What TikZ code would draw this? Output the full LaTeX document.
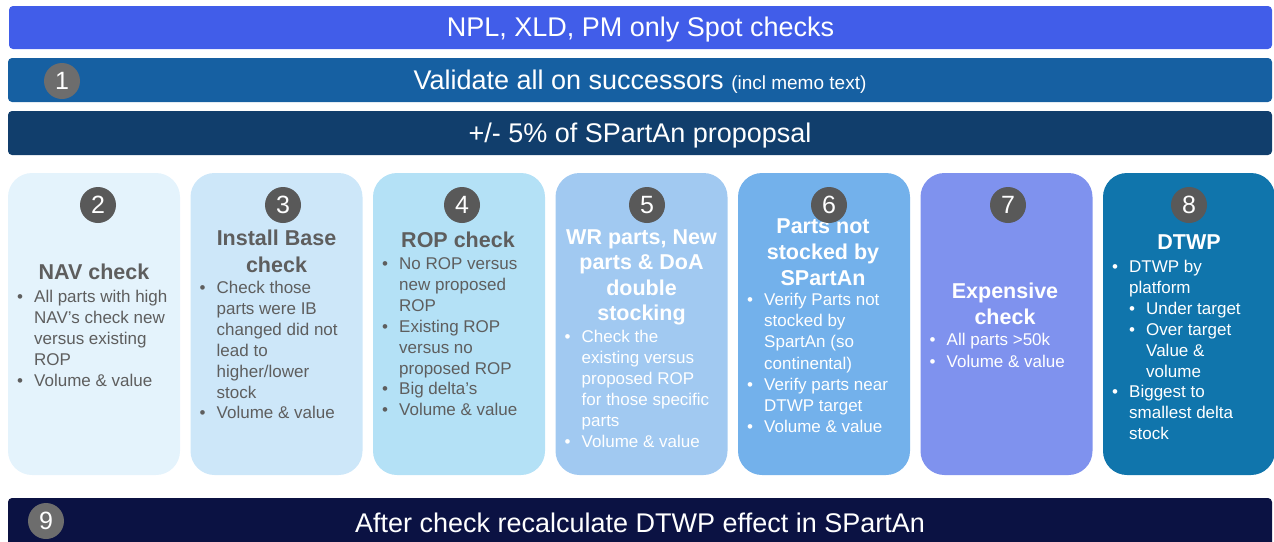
\documentclass[tikz,border=0pt]{standalone}
\usepackage{fontspec}
\setmainfont{Liberation Sans}

\definecolor{barA}{HTML}{415DE9}
\definecolor{barB}{HTML}{1660A2}
\definecolor{barC}{HTML}{113E6C}
\definecolor{barD}{HTML}{0B1243}
\definecolor{cardA}{HTML}{E4F3FC}
\definecolor{cardB}{HTML}{CDE7F9}
\definecolor{cardC}{HTML}{B4E1F6}
\definecolor{cardD}{HTML}{A1C9F1}
\definecolor{cardE}{HTML}{73B1EB}
\definecolor{cardF}{HTML}{7F92EE}
\definecolor{cardG}{HTML}{1075AC}
\definecolor{dotdark}{HTML}{595959}
\definecolor{dotlight}{HTML}{6D6D6D}
\definecolor{ink}{HTML}{5E5E5E}

% bullet and continuation indent for the card lists
\newcommand{\pbul}{\makebox[17pt][l]{\textbullet}}
\newcommand{\pind}{\hspace*{17pt}}

\tikzset{
  band/.style={fill=#1, rounded corners=4pt, inner sep=0pt, text=white,
    font=\fontsize{27}{31}\selectfont, text height=18.5pt, text depth=0pt},
  card/.style={fill=#1, rounded corners=24pt, inner sep=0pt,
    minimum width=172pt, minimum height=302pt},
  numdot/.style={circle, fill=#1, minimum size=36pt, inner sep=0pt, text=white,
    font=\fontsize{25}{25}\selectfont},
  cardtitle/.style={font=\bfseries\fontsize{21.5}{#1}\selectfont, inner sep=0pt, anchor=base},
  cardtitle/.default=26,
  cardbody/.style={font=\fontsize{17}{#1}\selectfont, inner sep=0pt, anchor=base west},
  cardbody/.default=20.9,
}

\begin{document}
\begin{tikzpicture}[x=1pt,y=-1pt]
\useasboundingbox (0,0) rectangle (1274,541);

% header bands
\node[band=barA, minimum width=1263pt, minimum height=43pt] (hdrA) at (640.5,27.5)
  {NPL, XLD, PM only Spot checks};
\node[band=barB, minimum width=1264pt, minimum height=44pt] (hdrB) at (640,80)
  {Validate all on successors {\fontsize{19}{21}\selectfont (incl memo text)}};
\node[band=barC, minimum width=1264pt, minimum height=44pt] (hdrC) at (640,133)
  {+/- 5\% of SPartAn propopsal};
\node[numdot=dotlight] (n1) at (62,81) {1};

% footer band
\node[band=barD, minimum width=1264pt, minimum height=50pt] (ftr) at (640,523)
  {After check recalculate DTWP effect in SPartAn};
\node[numdot=dotlight] (n9) at (46,521) {9};

% check cards
\node[card=cardA] (c2) at (94,324) {};
\node[card=cardB] (c3) at (276.5,324) {};
\node[card=cardC] (c4) at (459,324) {};
\node[card=cardD] (c5) at (641.5,324) {};
\node[card=cardE] (c6) at (824,324) {};
\node[card=cardF] (c7) at (1006.5,324) {};
\node[card=cardG] (c8) at (1189,324) {};

% card 2
\node[cardtitle, text=ink] (t2) at (94,279) {NAV check};
\node[cardbody, text=ink] (b2) at (17,302.5) {\begin{tabular}[t]{@{}l@{}}
\pbul All parts with high\\
\pind NAV's check new\\
\pind versus existing\\
\pind ROP\\
\pbul Volume \& value\end{tabular}};

% card 3
\node[cardtitle=27, text=ink] (t3) at (276.5,245) {\begin{tabular}[t]{@{}c@{}}Install Base\\check\end{tabular}};
\node[cardbody, text=ink] (b3) at (199.5,293.5) {\begin{tabular}[t]{@{}l@{}}
\pbul Check those\\
\pind parts were IB\\
\pind changed did not\\
\pind lead to\\
\pind higher/lower\\
\pind stock\\
\pbul Volume \& value\end{tabular}};

% card 4
\node[cardtitle, text=ink] (t4) at (458,247) {ROP check};
\node[cardbody, text=ink] (b4) at (382,269.5) {\begin{tabular}[t]{@{}l@{}}
\pbul No ROP versus\\
\pind new proposed\\
\pind ROP\\
\pbul Existing ROP\\
\pind versus no\\
\pind proposed ROP\\
\pbul Big delta's\\
\pbul Volume \& value\end{tabular}};

% card 5
\node[cardtitle=25.5, text=white] (t5) at (641.5,244) {\begin{tabular}[t]{@{}c@{}}WR parts, New\\parts \& DoA\\double\\stocking\end{tabular}};
\node[cardbody=21, text=white] (b5) at (564.5,342.5) {\begin{tabular}[t]{@{}l@{}}
\pbul Check the\\
\pind existing versus\\
\pind proposed ROP\\
\pind for those specific\\
\pind parts\\
\pbul Volume \& value\end{tabular}};

% card 6
\node[cardtitle, text=white] (t6) at (823,233) {\begin{tabular}[t]{@{}c@{}}Parts not\\stocked by\\SPartAn\end{tabular}};
\node[cardbody=21.2, text=white] (b6) at (747,305.5) {\begin{tabular}[t]{@{}l@{}}
\pbul Verify Parts not\\
\pind stocked by\\
\pind SpartAn (so\\
\pind continental)\\
\pbul Verify parts near\\
\pind DTWP target\\
\pbul Volume \& value\end{tabular}};

% card 7
\node[cardtitle, text=white] (t7) at (1005,298) {\begin{tabular}[t]{@{}c@{}}Expensive\\check\end{tabular}};
\node[cardbody=21.5, text=white] (b7) at (929.5,345.5) {\begin{tabular}[t]{@{}l@{}}
\pbul All parts >50k\\
\pbul Volume \& value\end{tabular}};

% card 8
\node[cardtitle, text=white] (t8) at (1189,249) {DTWP};
\node[cardbody, text=white] (b8) at (1112,272.5) {\begin{tabular}[t]{@{}l@{}}
\pbul DTWP by\\
\pind platform\\
\pind\pbul Under target\\
\pind\pbul Over target\\
\pind\pind Value \&\\
\pind\pind volume\\
\pbul Biggest to\\
\pind smallest delta\\
\pind stock\end{tabular}};

% step numbers on the cards
\node[numdot=dotdark] (n2) at (98,205) {2};
\node[numdot=dotdark] (n3) at (283,205) {3};
\node[numdot=dotdark] (n4) at (462,205) {4};
\node[numdot=dotdark] (n5) at (647,205) {5};
\node[numdot=dotdark] (n6) at (829,205) {6};
\node[numdot=dotdark] (n7) at (1008,205) {7};
\node[numdot=dotdark] (n8) at (1189,205) {8};
\end{tikzpicture}
\end{document}
